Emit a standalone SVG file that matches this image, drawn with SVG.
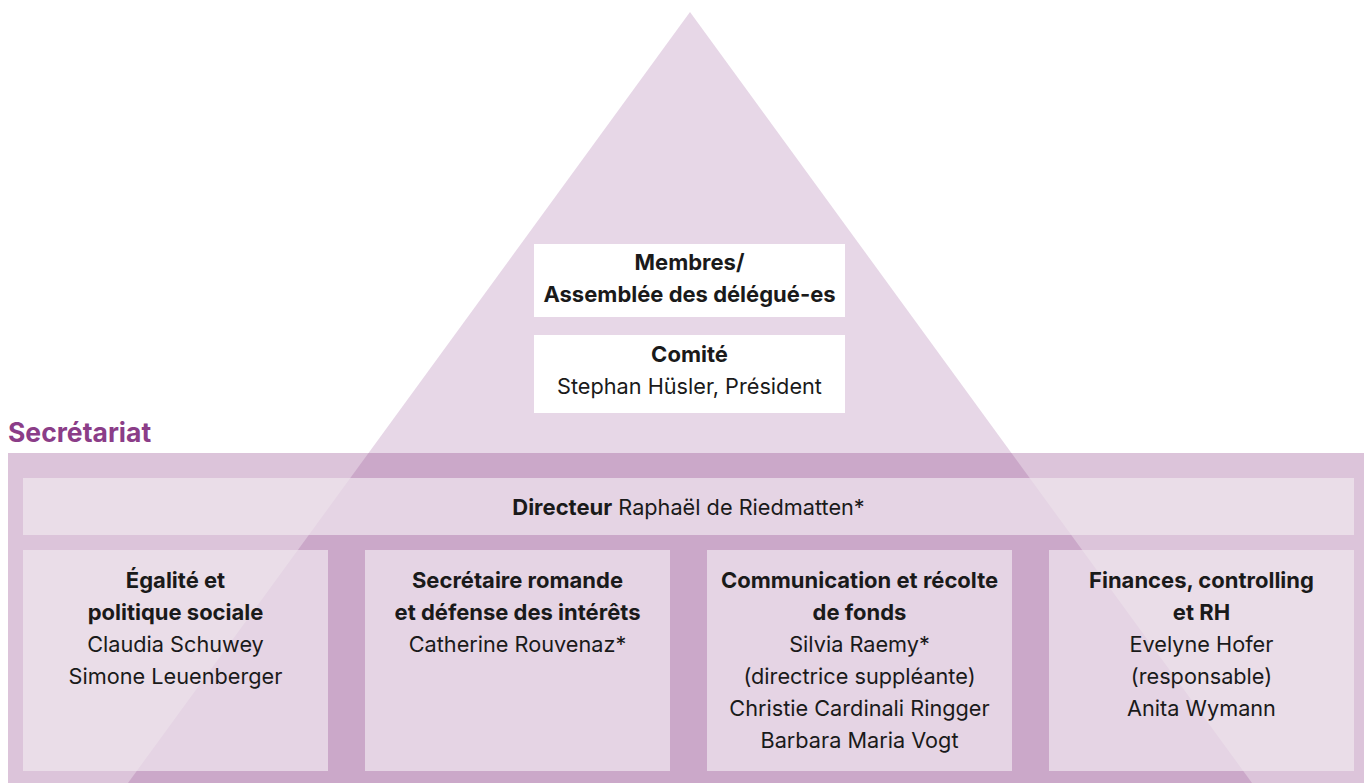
<svg xmlns="http://www.w3.org/2000/svg" width="1364" height="783" viewBox="0 0 1364 783">
<defs>
<clipPath id="tri"><polygon points="690,12 128,783 1252,783"/></clipPath>
<style>
text{font-family:Inter,"Liberation Sans","DejaVu Sans",sans-serif;font-size:21.7px;fill:#1a1a1a;text-anchor:middle}
.b{font-weight:700;font-size:22px}
.box{fill:#EADDE8}
.boxin{fill:#E5D4E4}
.white{fill:#ffffff}
.title{font-size:26.5px;font-weight:700;fill:#8B3D88;text-anchor:start}
</style>
</defs>
<rect width="1364" height="783" fill="#ffffff"/>
<g id="pyramid">
<polygon points="690,12 128,783 1252,783" fill="#E7D7E7"/>
</g>
<g id="secretariat">
<rect x="8" y="453" width="1356" height="330" fill="#DCC4DA"/>
<rect x="8" y="453" width="1356" height="330" fill="#CBA8C9" clip-path="url(#tri)"/>
<text class="title" x="8" y="442">Secrétariat</text>
</g>
<g id="membres">
<rect class="white" x="534" y="244" width="311" height="73"/>
<text class="b" x="689.5" y="270">Membres/</text>
<text class="b" x="689.5" y="302">Assemblée des délégué-es</text>
</g>
<g id="comite">
<rect class="white" x="534" y="335" width="311" height="78"/>
<text class="b" x="689.5" y="362">Comité</text>
<text x="689.5" y="394">Stephan Hüsler, Président</text>
</g>
<g id="directeur">
<rect class="box" x="23" y="478" width="1331" height="57"/>
<rect class="boxin" x="23" y="478" width="1331" height="57" clip-path="url(#tri)"/>
<text x="688.5" y="515"><tspan class="b">Directeur</tspan> Raphaël de Riedmatten*</text>
</g>
<g id="egalite">
<rect class="box" x="23" y="550" width="305" height="221"/>
<rect class="boxin" x="23" y="550" width="305" height="221" clip-path="url(#tri)"/>
<text class="b" x="175.5" y="588">Égalité et</text>
<text class="b" x="175.5" y="620">politique sociale</text>
<text x="175.5" y="652">Claudia Schuwey</text>
<text x="175.5" y="684">Simone Leuenberger</text>
</g>
<g id="romande">
<rect class="box" x="365" y="550" width="305" height="221"/>
<rect class="boxin" x="365" y="550" width="305" height="221" clip-path="url(#tri)"/>
<text class="b" x="517.5" y="588">Secrétaire romande</text>
<text class="b" x="517.5" y="620">et défense des intérêts</text>
<text x="517.5" y="652">Catherine Rouvenaz*</text>
</g>
<g id="communication">
<rect class="box" x="707" y="550" width="305" height="221"/>
<rect class="boxin" x="707" y="550" width="305" height="221" clip-path="url(#tri)"/>
<text class="b" x="859.5" y="588">Communication et récolte</text>
<text class="b" x="859.5" y="620">de fonds</text>
<text x="859.5" y="652">Silvia Raemy*</text>
<text x="859.5" y="684">(directrice suppléante)</text>
<text x="859.5" y="716">Christie Cardinali Ringger</text>
<text x="859.5" y="748">Barbara Maria Vogt</text>
</g>
<g id="finances">
<rect class="box" x="1049" y="550" width="305" height="221"/>
<rect class="boxin" x="1049" y="550" width="305" height="221" clip-path="url(#tri)"/>
<text class="b" x="1201.5" y="588">Finances, controlling</text>
<text class="b" x="1201.5" y="620">et RH</text>
<text x="1201.5" y="652">Evelyne Hofer</text>
<text x="1201.5" y="684">(responsable)</text>
<text x="1201.5" y="716">Anita Wymann</text>
</g>
<g id="connectors"/>
</svg>
